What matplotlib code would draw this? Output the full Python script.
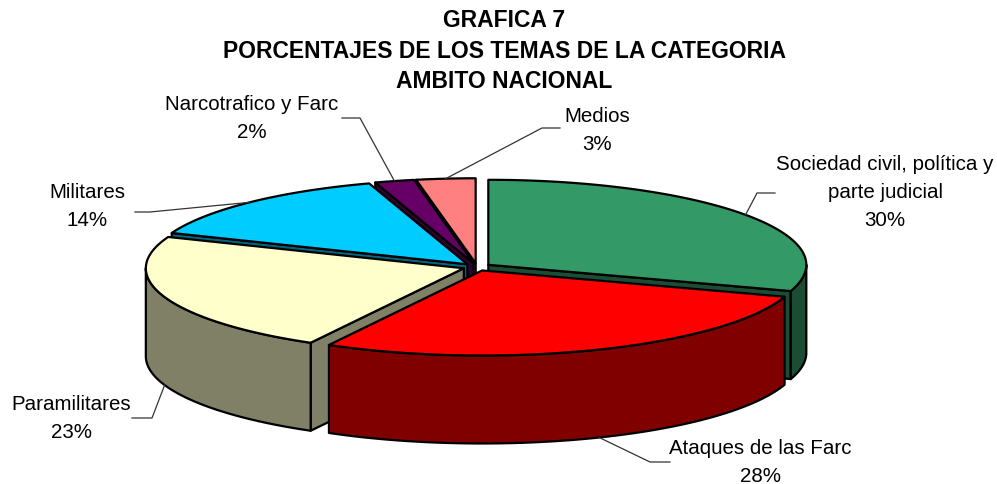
import numpy as np
import matplotlib.pyplot as plt
from matplotlib.patches import Polygon
from matplotlib.colors import to_rgb

# data
labels = ["Sociedad civil, política y\nparte judicial", "Ataques de las Farc",
          "Paramilitares", "Militares", "Narcotrafico y Farc", "Medios"]
values = [30, 28, 23, 14, 2, 3]
colors = ["#339966", "#FF0000", "#FFFFCC", "#00CCFF", "#660066", "#FF8080"]
title = "GRAFICA 7\nPORCENTAJES DE LOS TEMAS DE LA CATEGORIA\nAMBITO NACIONAL"

# label text centres and leader elbows (pixels)
label_pos = [(885, 193), (760, 462), (71, 418), (87, 207), (252, 118), (597, 130)]
elbows = [[(775, 193), (757, 193)], [(670, 462), (650, 462)], [(132, 418), (152, 418)],
          [(135, 212), (150, 212)], [(342, 118), (360, 118)], [(560, 128), (542, 128)]]

# pie geometry in pixels
cx, cy = 477, 267
rx, ry = 318, 85
depth = 88
explode = 0.044

plt.rcParams['font.family'] = ['Liberation Sans', 'DejaVu Sans']
fig = plt.figure(figsize=(9.97, 4.84), dpi=100)
ax = fig.add_axes([0, 0, 1, 1])
ax.set_xlim(0, 997)
ax.set_ylim(484, 0)
ax.axis('off')


def darker(c, f=0.5):
    return tuple(v * f for v in to_rgb(c))


def pt(o, t, z=0.0):
    r = np.radians(t)
    return (o[0] + rx * np.cos(r), o[1] - ry * np.sin(r) + z)


def arc(o, a, b, z=0.0, n=80):
    ts = np.linspace(a, b, n)
    return [pt(o, t, z) for t in ts]


total = sum(values)
start = 90.0
slices = []
for v in values:
    t0 = start
    t1 = start - 360.0 * v / total
    mid = (t0 + t1) / 2
    o = (cx + explode * rx * np.cos(np.radians(mid)),
         cy - explode * ry * np.sin(np.radians(mid)))
    slices.append((t0, t1, mid, o))
    start = t1

radial, walls, tops = [], [], []
for (t0, t1, mid, o), col in zip(slices, colors):
    side = darker(col)
    # cut faces that look toward the viewer
    for t, vis in ((t0, np.cos(np.radians(t0)) < -1e-6), (t1, np.cos(np.radians(t1)) > 1e-6)):
        if vis:
            e = pt(o, t)
            poly = [o, e, (e[0], e[1] + depth), (o[0], o[1] + depth)]
            radial.append(((o[1] + e[1]) / 2, poly, side))
    # outer wall on the front half
    for k in (-1, 0, 1):
        lo, hi = max(t1, -180 + 360 * k), min(t0, 360 * k)
        if lo < hi:
            poly = arc(o, lo, hi) + arc(o, hi, lo, depth)
            walls.append((pt(o, (lo + hi) / 2)[1], poly, side))
    tops.append([o] + arc(o, t0, t1))

for _, poly, c in sorted(radial, key=lambda p: p[0]):
    ax.add_patch(Polygon(poly, closed=True, fc=c, ec='black', lw=1.6, joinstyle='round'))
for _, poly, c in sorted(walls, key=lambda p: p[0]):
    ax.add_patch(Polygon(poly, closed=True, fc=c, ec='black', lw=1.6, joinstyle='round'))
for poly, c in zip(tops, colors):
    ax.add_patch(Polygon(poly, closed=True, fc=c, ec='black', lw=1.6, joinstyle='round'))

# labels with leader lines
for (t0, t1, mid, o), lab, v, pos, elb in zip(slices, labels, values, label_pos, elbows):
    if np.sin(np.radians(mid)) < 0:
        anchor = pt(o, mid, depth)
    else:
        anchor = pt(o, mid)
    xs = [elb[0][0], elb[1][0], anchor[0]]
    ys = [elb[0][1], elb[1][1], anchor[1]]
    ax.plot(xs, ys, color='#333333', lw=0.9)
    ax.text(pos[0], pos[1], f"{lab}\n{v}%", ha='center', va='center',
            multialignment='center', fontsize=14.8, linespacing=1.6, color='black')

ax.text(504, 51, title, ha='center', va='center', fontsize=16.5, fontweight='bold',
        linespacing=1.42)

fig.savefig('out.png', dpi=100)
